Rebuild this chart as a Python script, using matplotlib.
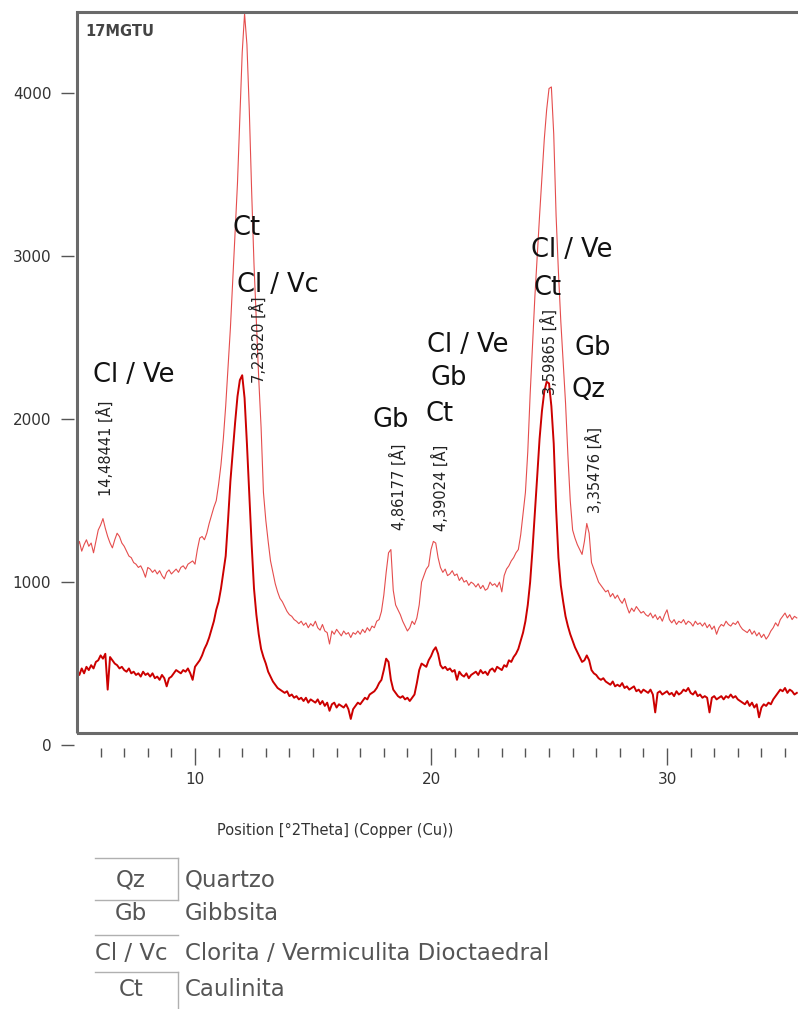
import numpy as np
import matplotlib
matplotlib.use("Agg")
import matplotlib.pyplot as plt

plt.rcParams['font.family'] = ['DejaVu Sans']

# scan from 5.0 to 35.5 deg 2theta, 0.1 deg step (one row per degree)
upper_counts = [
    1210, 1250, 1190, 1230, 1260, 1220, 1240, 1180, 1250, 1320,   # 5
    1350, 1390, 1330, 1280, 1240, 1210, 1260, 1300, 1280, 1240,   # 6
    1220, 1190, 1160, 1150, 1120, 1110, 1090, 1100, 1070, 1030,   # 7
    1090, 1080, 1060, 1075, 1050, 1070, 1040, 1020, 1060, 1075,   # 8
    1050, 1065, 1080, 1060, 1090, 1100, 1080, 1110, 1120, 1130,   # 9
    1110, 1200, 1270, 1280, 1260, 1300, 1360, 1410, 1460, 1500,   # 10
    1600, 1720, 1880, 2080, 2320, 2560, 2850, 3150, 3450, 3850,   # 11
    4250, 4490, 4300, 3900, 3400, 2950, 2600, 2250, 1950, 1550,   # 12
    1380, 1250, 1130, 1060, 990, 940, 900, 880, 850, 820,         # 13
    800, 790, 770, 760, 745, 760, 735, 750, 720, 745,             # 14
    730, 760, 720, 705, 740, 700, 690, 620, 700, 680,             # 15
    710, 690, 670, 700, 680, 690, 660, 690, 680, 700,             # 16
    680, 710, 690, 720, 700, 730, 720, 760, 770, 820,             # 17
    920, 1060, 1180, 1200, 950, 860, 830, 800, 760, 730,          # 18
    700, 720, 760, 740, 780, 860, 1000, 1040, 1080, 1100,         # 19
    1200, 1250, 1240, 1150, 1090, 1060, 1080, 1040, 1050, 1070,   # 20
    1040, 1050, 1010, 1030, 1000, 1010, 980, 1000, 990, 970,      # 21
    990, 960, 980, 950, 960, 1000, 980, 990, 970, 1000,           # 22
    940, 1040, 1080, 1100, 1130, 1150, 1180, 1200, 1290, 1420,    # 23
    1550, 1800, 2150, 2450, 2750, 3000, 3250, 3480, 3720, 3900,   # 24
    4030, 4040, 3750, 3250, 2900, 2600, 2350, 2100, 1780, 1500,   # 25
    1320, 1270, 1230, 1200, 1170, 1250, 1360, 1300, 1120, 1080,   # 26
    1040, 1000, 980, 960, 940, 950, 910, 930, 900, 920,           # 27
    890, 870, 900, 850, 810, 840, 820, 850, 830, 810,             # 28
    820, 800, 790, 810, 780, 800, 770, 790, 760, 800,             # 29
    830, 770, 750, 770, 740, 760, 750, 770, 740, 760,             # 30
    750, 730, 760, 740, 750, 730, 750, 720, 740, 710,             # 31
    730, 680, 720, 740, 730, 760, 740, 730, 750, 740,             # 32
    760, 730, 710, 700, 690, 710, 680, 700, 670, 690,             # 33
    660, 680, 650, 670, 700, 720, 750, 730, 770, 790,             # 34
    810, 780, 800, 770, 790, 780,                                 # 35
]

lower_counts = [
    460, 430, 470, 440, 480, 460, 490, 470, 510, 520,             # 5
    550, 530, 560, 340, 540, 520, 500, 490, 470, 480,             # 6
    460, 450, 470, 440, 450, 430, 440, 420, 450, 430,             # 7
    440, 420, 440, 410, 420, 400, 430, 410, 360, 410,             # 8
    420, 440, 460, 450, 440, 460, 450, 470, 440, 400,             # 9
    480, 500, 520, 550, 590, 620, 660, 710, 760, 830,             # 10
    880, 960, 1060, 1160, 1380, 1620, 1800, 1980, 2140, 2240,     # 11
    2270, 2130, 1850, 1540, 1230, 960, 800, 680, 590, 540,        # 12
    500, 450, 420, 390, 370, 350, 340, 330, 320, 330,             # 13
    300, 310, 290, 300, 280, 290, 270, 290, 260, 280,             # 14
    270, 260, 280, 250, 270, 240, 260, 210, 250, 260,             # 15
    230, 250, 240, 230, 250, 220, 160, 220, 240, 260,             # 16
    250, 270, 290, 280, 310, 320, 330, 350, 380, 400,             # 17
    460, 530, 510, 400, 340, 320, 300, 290, 300, 280,             # 18
    290, 270, 290, 310, 380, 460, 500, 490, 480, 520,             # 19
    545, 580, 600, 560, 490, 470, 480, 460, 470, 450,             # 20
    460, 400, 450, 430, 420, 440, 410, 430, 440, 450,             # 21
    430, 460, 440, 450, 430, 460, 470, 450, 480, 470,             # 22
    460, 490, 480, 520, 510, 540, 560, 590, 640, 690,             # 23
    760, 860, 1000, 1200, 1420, 1650, 1880, 2050, 2170, 2230,     # 24
    2220, 2080, 1850, 1450, 1150, 980, 880, 790, 730, 680,        # 25
    640, 600, 570, 540, 510, 520, 550, 520, 460, 440,             # 26
    430, 410, 400, 410, 390, 380, 370, 390, 360, 370,             # 27
    360, 380, 350, 360, 340, 350, 360, 330, 340, 320,             # 28
    340, 330, 320, 340, 310, 200, 320, 330, 310, 320,             # 29
    330, 310, 320, 300, 330, 310, 320, 340, 330, 350,             # 30
    320, 310, 330, 300, 310, 290, 300, 290, 200, 290,             # 31
    300, 280, 290, 300, 280, 300, 290, 310, 290, 300,             # 32
    280, 270, 260, 250, 270, 240, 260, 230, 250, 170,             # 33
    230, 250, 240, 260, 250, 280, 300, 320, 340, 330,             # 34
    350, 320, 340, 330, 310, 320,                                 # 35
]

two_theta = np.linspace(5.0, 35.5, len(upper_counts))

# phase labels over the peaks
phase_labels = ["Cl / Ve", "Ct", "Cl / Vc", "Gb", "Cl / Ve", "Gb", "Ct",
                "Cl / Ve", "Ct", "Gb", "Qz"]
phase_x = [7.42, 12.2, 13.52, 18.31, 21.57, 20.76, 20.38, 25.97, 24.92, 26.86, 26.69]
phase_y = [2270, 3172, 2822, 1994, 2454, 2252, 2031, 3037, 2804, 2436, 2178]

# d-spacing labels
d_labels = ["14,48441 [Å]", "7,23820 [Å]", "4,86177 [Å]", "4,39024 [Å]",
            "3,59865 [Å]", "3,35476 [Å]"]
d_x = [6.19, 12.67, 18.6, 20.38, 25.0, 26.9]
d_y = [1822, 2485, 1583, 1577, 2411, 1687]

legend_codes = ["Qz", "Gb", "Cl / Vc", "Ct"]
legend_names = ["Quartzo", "Gibbsita", "Clorita / Vermiculita Dioctaedral", "Caulinita"]

W, H = 798, 1009
fig = plt.figure(figsize=(W / 100, H / 100), dpi=100)


def fx(px):
    return px / W


def fy(py):
    return 1 - py / H


ax = fig.add_axes([fx(77), fy(745), fx(798) - fx(77), fy(12) - fy(745)])
ax.set_xlim(5.0, 35.55)
ax.set_ylim(0, 4500)

frame = '#6a6a6a'
ax.plot(two_theta, upper_counts, color='#e23a3a', lw=0.8, alpha=0.9)
ax.plot(two_theta, lower_counts, color='#cc0000', lw=1.4)

# plot frame sits a bit inside the tick axes
ax.plot([5.0, 5.0], [74, 4500], color=frame, lw=2.2, clip_on=False,
        solid_capstyle='butt')
ax.axhline(74, color=frame, lw=2.2)
ax.spines['top'].set_color(frame)
ax.spines['top'].set_linewidth(2.2)
ax.spines['right'].set_visible(False)
ax.spines['left'].set_position(('outward', 2.5))
ax.spines['left'].set_visible(False)
ax.spines['bottom'].set_position(('outward', 2.5))
ax.spines['bottom'].set_visible(False)

ax.set_xticks([10, 20, 30])
ax.set_xticks(np.arange(6, 36, 1), minor=True)
ax.set_yticks([0, 1000, 2000, 3000, 4000])
ax.tick_params(axis='x', which='major', direction='out', length=12, width=1,
               color='#555555', labelsize=11, labelcolor='#333333', pad=5)
ax.tick_params(axis='x', which='minor', direction='out', length=6.5, width=1,
               color='#555555')
ax.tick_params(axis='y', which='major', direction='out', length=9.5, width=1,
               color='#555555', labelsize=11, labelcolor='#333333', pad=6.5)

ax.text(0.012, 0.984, "17MGTU", transform=ax.transAxes, fontsize=10.5,
        fontweight='bold', color='#444444', ha='left', va='top')

for lab, x, y in zip(phase_labels, phase_x, phase_y):
    ax.text(x, y, lab, fontsize=18.5, color='#111111', ha='center', va='center')

for lab, x, y in zip(d_labels, d_x, d_y):
    ax.text(x, y, lab, fontsize=10.5, color='#222222', rotation=90,
            ha='center', va='center')

fig.text(fx(335), fy(830), "Position [°2Theta] (Copper (Cu))", fontsize=10.5,
         color='#333333', ha='center', va='center')

# legend table
row_y = [880, 914, 953, 990]
for code, name, y in zip(legend_codes, legend_names, row_y):
    fig.text(fx(131), fy(y), code, fontsize=16.5, color='#555555',
             ha='center', va='center')
    fig.text(fx(185), fy(y), name, fontsize=16.5, color='#555555',
             ha='left', va='center')

cell = dict(color='#b0b0b0', lw=1, transform=fig.transFigure)
fig.add_artist(plt.Line2D([fx(95), fx(178)], [fy(858), fy(858)], **cell))
fig.add_artist(plt.Line2D([fx(178), fx(178)], [fy(858), fy(900)], **cell))
fig.add_artist(plt.Line2D([fx(95), fx(178)], [fy(900), fy(900)], **cell))
fig.add_artist(plt.Line2D([fx(95), fx(178)], [fy(935), fy(935)], **cell))
fig.add_artist(plt.Line2D([fx(95), fx(178)], [fy(972), fy(972)], **cell))
fig.add_artist(plt.Line2D([fx(178), fx(178)], [fy(972), fy(1009)], **cell))

fig.savefig('out.png', dpi=100)
